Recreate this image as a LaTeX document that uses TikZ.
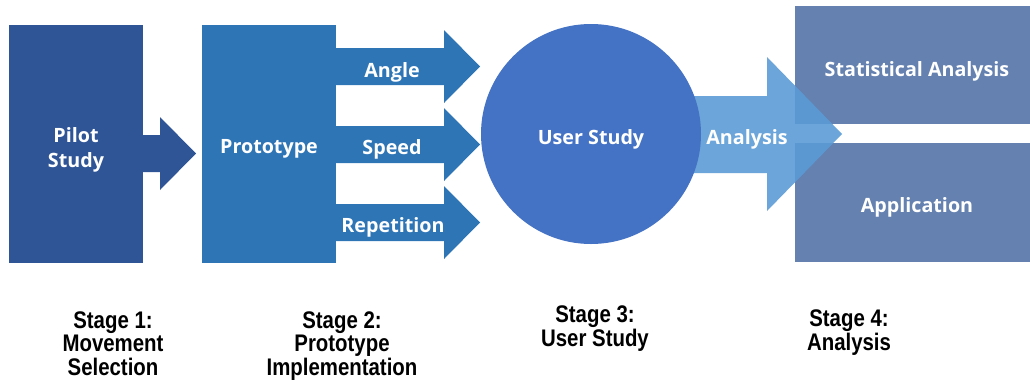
\documentclass[tikz,border=0pt]{standalone}
\usepackage{fontspec}
\setmainfont{Liberation Sans}
\newfontfamily\boxfont{Open Sans}
\newfontfamily\stagefont[FakeStretch=0.85]{Liberation Sans}
\usetikzlibrary{positioning}

\definecolor{pilotblue}{RGB}{47,85,151}
\definecolor{protoblue}{RGB}{46,117,182}
\definecolor{userblue}{RGB}{68,114,196}
\definecolor{flowblue}{RGB}{91,155,213}
\definecolor{resultblue}{RGB}{100,129,176}

\begin{document}
\begin{tikzpicture}[x=1pt,y=-1pt,
	box/.style={inner sep=0pt},
	inlabel/.style={text=white, inner sep=0pt, align=center, yshift=-3pt, font=\boxfont\bfseries\fontsize{19.7}{25}\selectfont},
	stagelabel/.style={anchor=base, align=center, inner sep=0pt, font=\stagefont\bfseries\fontsize{24}{23.5}\selectfont}]
		\useasboundingbox (0,0) rectangle (1030,381);
		\node[box, fill=pilotblue, minimum width=134pt, minimum height=238pt] (pilot) at (76,144) {};
		\fill[pilotblue] (143,135) -- (160,135) -- (160,117) -- (196,153.5) -- (160,190) -- (160,172) -- (143,172) -- cycle;
		\node[inlabel] (pilotlabel) at (76,146.5) {Pilot\\Study};
		\node[box, fill=protoblue, minimum width=134pt, minimum height=238pt] (proto) at (269,144) {};
		\node[inlabel] (protolabel) at (269,146) {Prototype};
		\fill[protoblue] (336,48) -- (444,48) -- (444,30) -- (480,66.5) -- (444,103) -- (444,85) -- (336,85) -- cycle;
		\fill[protoblue] (336,126) -- (444,126) -- (444,108) -- (480,144.5) -- (444,181) -- (444,163) -- (336,163) -- cycle;
		\fill[protoblue] (336,204) -- (444,204) -- (444,186) -- (480,222.5) -- (444,259) -- (444,241) -- (336,241) -- cycle;
		\node[inlabel] (angle) at (392,69) {Angle};
		\node[inlabel] (speed) at (392,146) {Speed};
		\node[inlabel] (repetition) at (393,224) {Repetition};
		\node[box, fill=resultblue, minimum width=235pt, minimum height=118pt] (stat) at (912.5,65) {};
		\node[box, fill=resultblue, minimum width=235pt, minimum height=119pt] (app) at (912.5,202.5) {};
		\fill[flowblue, opacity=0.9] (650,96) -- (767,96) -- (767,57) -- (842,134) -- (767,211) -- (767,173) -- (650,173) -- cycle;
		\node[inlabel] (statlabel) at (917,68) {Statistical Analysis};
		\node[inlabel] (applabel) at (917,204) {Application};
		\node[circle, fill=userblue, minimum size=220pt, inner sep=0pt] (user) at (591,134) {};
		\node[inlabel] (userlabel) at (591,136) {User Study};
		\node[inlabel] (analysis) at (747,136) {Analysis};
		\node[stagelabel] (stage1) at (113,375) {Stage 1:\\Movement\\Selection};
		\node[stagelabel] (stage2) at (342,375) {Stage 2:\\Prototype\\Implementation};
		\node[stagelabel] (stage3) at (595,346) {Stage 3:\\User Study};
		\node[stagelabel] (stage4) at (849,350) {Stage 4:\\Analysis};
	\end{tikzpicture}
\end{document}
